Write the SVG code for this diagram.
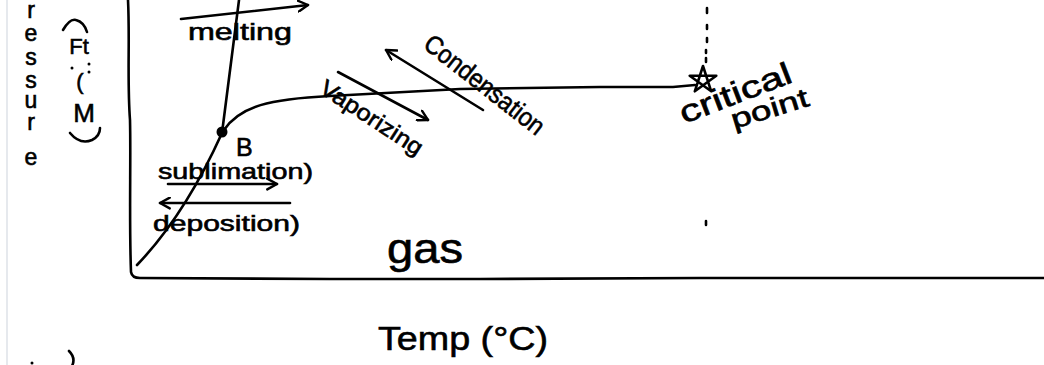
<svg xmlns="http://www.w3.org/2000/svg" width="1044" height="365" viewBox="0 0 1044 365">
<style>
.ink{fill:none;stroke:#000;stroke-width:2.6;stroke-linecap:round;stroke-linejoin:round}
.t{font-family:"Liberation Sans",Arial,sans-serif;fill:#000;stroke:#000;stroke-width:0.6}
</style>
<defs>
<marker id="chev" viewBox="0 0 12 12" refX="10" refY="6" markerWidth="13" markerHeight="13" markerUnits="userSpaceOnUse" orient="auto">
<path d="M1,1 L10,6 L1,11" fill="none" stroke="#000" stroke-width="2.2" stroke-linecap="round" stroke-linejoin="round"/>
</marker>
</defs>
<rect width="1044" height="365" fill="#fff"/>
<line x1="7" y1="0" x2="7" y2="365" stroke="#d6dae2" stroke-width="1.2"/>

<g id="axes">
<path class="ink" d="M128,0 C130,40 127,80 130,120 C131,160 129,220 131,272 Q132,278 140,278 L330,279 L480,279 L700,278 L1044,278"/>
</g>

<g id="phase-boundaries">
<path class="ink" d="M222,133 L239,0"/>
<path class="ink" d="M137,265 Q185,215 222,133"/>
<path class="ink" d="M224,130 C240,106 270,99 330,96 L460,89 L600,87 L673,87 L695,85"/>
<path class="ink" stroke-width="2.8" d="M703,66 L711.2,91.3 L689.7,75.7 L716.3,75.7 L694.8,91.3 Z"/>
<path class="ink" d="M707,8 v5 M707,25 v4 M707,38 v4 M706,50 v3 M706,58 v4 M706,221 v4"/>
</g>

<g id="triple-point">
<circle cx="222" cy="132" r="5.5" fill="#000"/>
<text class="t" x="236" y="156" font-size="25">B</text>
</g>

<g id="connectors">
<path class="ink" d="M181,19 L308,5" marker-end="url(#chev)"/>
<path class="ink" d="M338,72 L428,120" marker-end="url(#chev)"/>
<path class="ink" d="M483,110 L386,50" marker-end="url(#chev)"/>
<path class="ink" d="M168,184 L277,184" marker-end="url(#chev)"/>
<path class="ink" d="M290,203 L160,203" marker-end="url(#chev)"/>
</g>

<g id="labels">
<text class="t" x="188" y="40" font-size="24" textLength="104" lengthAdjust="spacingAndGlyphs">melting</text>
<text class="t" font-size="23" textLength="118" lengthAdjust="spacingAndGlyphs" transform="translate(318,92) rotate(33)">Vaporizing</text>
<text class="t" font-size="26" textLength="145" lengthAdjust="spacingAndGlyphs" transform="translate(422,47) rotate(38)">Condensation</text>
<text class="t" x="158" y="179" font-size="22" textLength="155" lengthAdjust="spacingAndGlyphs">sublimation)</text>
<text class="t" x="153" y="231" font-size="22" textLength="147" lengthAdjust="spacingAndGlyphs">deposition)</text>
<text class="t" x="387" y="263" font-size="42" textLength="76" lengthAdjust="spacingAndGlyphs">gas</text>
<text class="t" x="378" y="350" font-size="34" textLength="170" lengthAdjust="spacingAndGlyphs">Temp (°C)</text>
<text class="t" font-size="31" textLength="118" lengthAdjust="spacingAndGlyphs" transform="translate(684,124) rotate(-21)">critical</text>
<text class="t" font-size="27" textLength="80" lengthAdjust="spacingAndGlyphs" transform="translate(734,129) rotate(-17)">point</text>
</g>

<g id="pressure-label">
<text class="t" font-size="23" text-anchor="middle"><tspan x="31" y="18">r</tspan><tspan x="31" y="41">e</tspan><tspan x="31" y="65">s</tspan><tspan x="31" y="88">s</tspan><tspan x="31" y="108">u</tspan><tspan x="31" y="130">r</tspan><tspan x="31" y="165">e</tspan></text>
<path class="ink" d="M63,30 Q70,18 76,20 Q84,22 87,32"/>
<text class="t" x="79" y="54" font-size="22" text-anchor="middle">Ft</text>
<text class="t" x="80" y="89" font-size="22" text-anchor="middle">(</text>
<circle cx="72" cy="68" r="1.5" fill="#000"/>
<circle cx="89" cy="64" r="1.5" fill="#000"/>
<circle cx="89" cy="72" r="1.5" fill="#000"/>
<text class="t" x="84" y="122" font-size="26" text-anchor="middle">M</text>
<path class="ink" d="M70,133 Q80,145 92,140 Q100,136 100,128"/>
</g>

<g id="margin-marks">
<path class="ink" d="M69,351 Q76,358 72,366"/>
<circle cx="32" cy="363" r="1.5" fill="#000"/>
</g>
</svg>
